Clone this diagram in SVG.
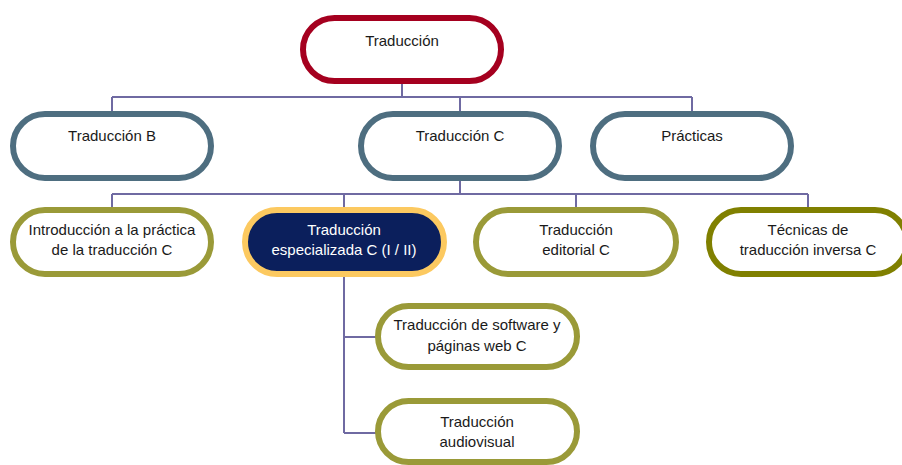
<svg xmlns="http://www.w3.org/2000/svg" width="902" height="465" viewBox="0 0 902 465">
<style>
text{font-family:"Liberation Sans",Arial,sans-serif;font-size:15px;fill:#1a1a1a;text-anchor:middle}
.n{fill:#fff;stroke-width:6}
.red{stroke:#a5001f}
.steel{stroke:#4e6e80}
.olive{stroke:#9a9a38}
.dolive{stroke:#808000}
.esp{fill:#0b1f5c;stroke:#fcc960}
.w{fill:#fff}
#connectors path{fill:none;stroke:#6f6aa2;stroke-width:2}
</style>
<rect width="902" height="465" fill="#fff"/>
<g id="connectors">
<path d="M402 84V97M112 97H692M112 97V112M460 97V112M692 97V112"/>
<path d="M460 181V194M112 194H808M112 194V208M344 194V208M576 194V208M808 194V208"/>
<path d="M344 277V433M344 337H376M344 433H376"/>
</g>
<g id="n-traduccion"><rect class="n red" x="303" y="18" width="198" height="63" rx="31.5"/><text x="402" y="46">Traducción</text></g>
<g id="n-trad-b"><rect class="n steel" x="13" y="114" width="198" height="64" rx="32"/><text x="112" y="141">Traducción B</text></g>
<g id="n-trad-c"><rect class="n steel" x="361" y="114" width="198" height="64" rx="32"/><text x="460" y="141">Traducción C</text></g>
<g id="n-practicas"><rect class="n steel" x="593" y="114" width="198" height="64" rx="32"/><text x="692" y="141">Prácticas</text></g>
<g id="n-intro"><rect class="n olive" x="13" y="210" width="198" height="64" rx="32"/><text x="112" y="235">Introducción a la práctica</text><text x="112" y="255">de la traducción C</text></g>
<g id="n-esp"><rect class="n esp" x="245" y="210" width="199" height="64" rx="32"/><text class="w" x="344" y="235">Traducción</text><text class="w" x="344" y="255">especializada C (I / II)</text></g>
<g id="n-editorial"><rect class="n olive" x="476" y="210" width="200" height="64" rx="32"/><text x="576" y="235">Traducción</text><text x="576" y="255">editorial C</text></g>
<g id="n-tecnicas"><rect class="n dolive" x="709" y="210" width="198" height="64" rx="32"/><text x="808" y="235">Técnicas de</text><text x="808" y="255">traducción inversa C</text></g>
<g id="n-software"><rect class="n olive" x="378" y="306" width="199" height="61" rx="30.5"/><text x="477" y="330">Traducción de software y</text><text x="477" y="351">páginas web C</text></g>
<g id="n-audiovisual"><rect class="n olive" x="378" y="401" width="199" height="61" rx="30.5"/><text x="477" y="427">Traducción</text><text x="477" y="447">audiovisual</text></g>
</svg>
